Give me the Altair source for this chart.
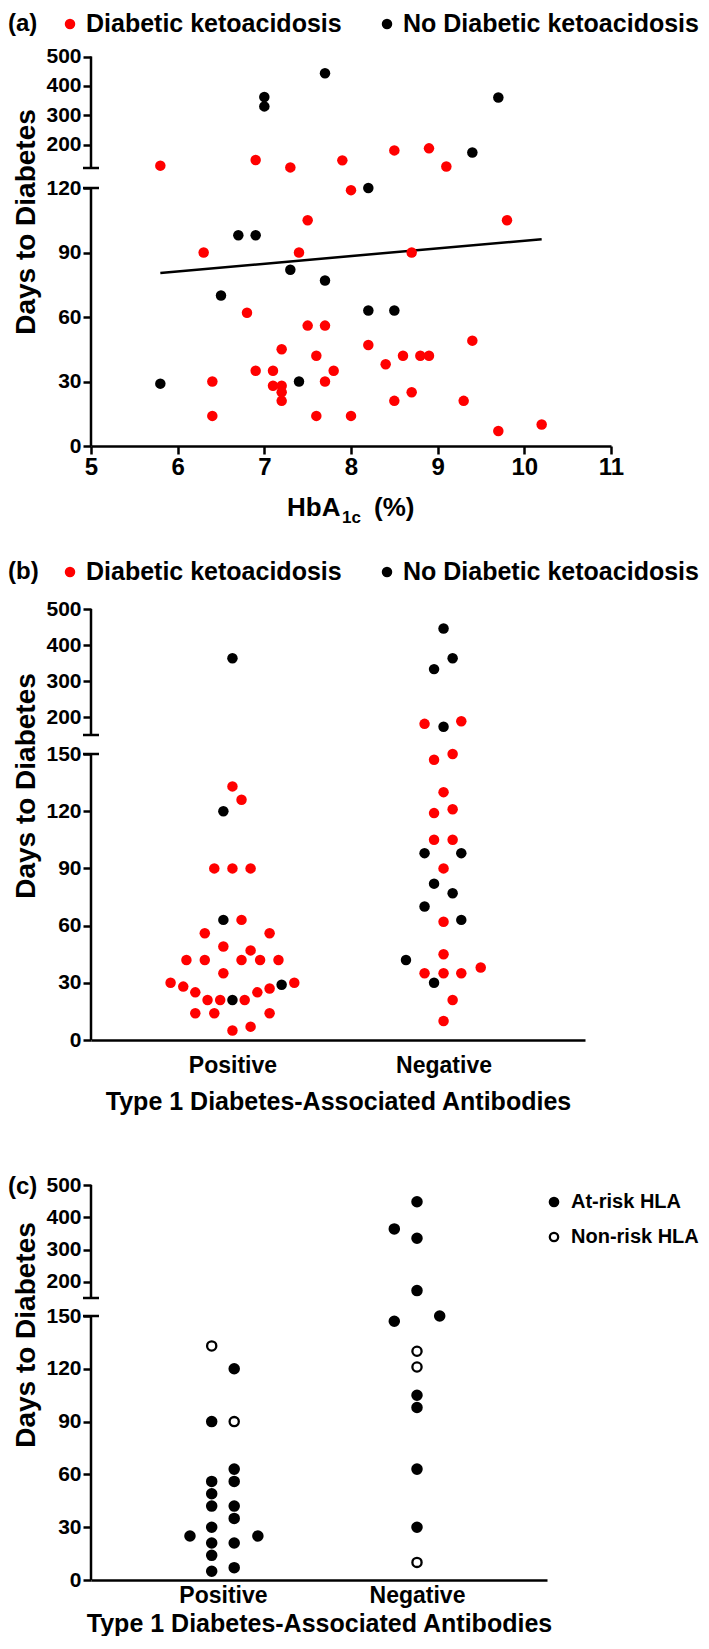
import altair as alt
import pandas as pd

FONT = "Liberation Sans"
RED = "#ff0000"
BLACK = "#000000"
DKA = "Diabetic ketoacidosis"
NODKA = "No Diabetic ketoacidosis"
ATRISK = "At-risk HLA"
NONRISK = "Non-risk HLA"
YTITLE = "Days to Diabetes"
XTITLE_BC = "Type 1 Diabetes-Associated Antibodies"

# ---------------- Panel (a): HbA1c vs days ----------------
a_red_hba1c = [6.3, 6.4, 6.4, 6.8, 6.9, 7.1, 7.1, 7.2, 7.2, 7.2, 7.2, 7.4, 7.5, 7.5, 7.6, 7.6,
               7.7, 7.7, 7.8, 8.0, 8.0, 8.2, 8.4, 8.5, 8.6, 8.7, 8.7, 8.8, 8.9, 9.3, 9.4, 9.7,
               9.8, 10.2, 5.8, 6.9, 7.3, 7.9, 8.5, 8.9, 9.1]
a_red_days = [90, 30, 14, 62, 35, 35, 28, 45, 28, 25, 21, 90, 105, 56, 42, 14,
              56, 30, 35, 119, 14, 47, 38, 21, 42, 90, 25, 42, 42, 21, 49, 7,
              105, 10, 128, 147, 122, 146, 180, 187, 125]
a_black_hba1c = [5.8, 6.5, 6.7, 6.9, 7.3, 7.4, 7.7, 8.2, 8.2, 8.5, 7.0, 7.0, 7.7, 9.7, 9.4]
a_black_days = [29, 70, 98, 98, 82, 30, 77, 120, 63, 63, 362, 330, 443, 360, 173]
fit_hba1c = [5.8, 10.2]
fit_days = [80.5, 96.2]
a_x_ticks = [5, 6, 7, 8, 9, 10, 11]
a_y_ticks = [0, 30, 60, 90, 120, 200, 300, 400, 500]
a_y_domain = [0, 120, 120.001, 500]
a_seg_lo = [0, 120.001]
a_seg_hi = [120, 500]
a_caps = [120, 120.001]

# ---------------- Panel (b): antibodies vs days (DKA) ----------------
b_group = (["Positive"] * 35) + (["Negative"] * 30)
b_dx = [0, 0.043, -0.086, 0, 0.086, 0.043, -0.131, 0.176, -0.043, 0.086, -0.218, -0.131,
        0.043, 0.131, 0.218, -0.043, -0.293, 0.293, -0.233, 0.176, -0.176, 0.118, -0.118,
        -0.058, 0.058, -0.176, -0.086, 0.176, 0.086, 0,
        0, -0.043, -0.043, 0.233, 0,
        -0.09, 0.084, -0.045, 0.043, 0, -0.045, 0.043, -0.045, 0.043, 0, 0, 0, 0.176, -0.09,
        0, 0.084, 0.043, 0,
        0, 0.043, -0.045, 0, -0.09, 0.084, -0.045, 0.043, -0.09, 0.084, -0.178, -0.045]
b_days = [133, 126, 90, 90, 90, 63, 56, 56, 49, 47, 42, 42, 42, 42, 42, 35, 30, 30, 28, 27,
          25, 25, 21, 21, 21, 14, 14, 14, 7, 5,
          363, 120, 63, 29, 21,
          181, 188, 147, 150, 130, 119, 121, 105, 105, 90, 62, 45, 38, 35, 35, 35, 21, 10,
          446, 363, 333, 173, 98, 98, 82, 77, 70, 63, 42, 30]
b_status = ([DKA] * 30) + ([NODKA] * 5) + ([DKA] * 18) + ([NODKA] * 12)

# ---------------- Panel (c): antibodies vs days (HLA) ----------------
c_group = (["Positive"] * 19) + (["Negative"] * 13)
c_dx = [-0.058, 0.058, -0.058, 0.058, 0.058, -0.058, 0.058, -0.058, -0.058, 0.058, 0.058,
        -0.058, -0.17, 0.18, -0.058, 0.058, -0.058, 0.058, -0.058,
        0, -0.117, 0, 0, -0.117, 0.117, 0, 0, 0, 0, 0, 0, 0]
c_days = [133, 120, 90, 90, 63, 56, 56, 49, 42, 42, 35, 30, 25, 25, 21, 21, 14, 7, 5,
          448, 364, 335, 173, 147, 150, 130, 121, 105, 98, 63, 30, 10]
c_hla = [NONRISK, ATRISK, ATRISK, NONRISK] + [ATRISK] * 15 + \
        [ATRISK] * 6 + [NONRISK, NONRISK] + [ATRISK] * 4 + [NONRISK]

bc_y_ticks = [0, 30, 60, 90, 120, 150, 200, 300, 400, 500]
bc_y_domain = [0, 150, 150.001, 500]
bc_seg_lo = [0, 150.001]
bc_seg_hi = [150, 500]
bc_caps = [150, 150.001]
categories = ["Positive", "Negative"]

# ---------------- helpers ----------------
dka_color = alt.Scale(domain=[DKA, NODKA], range=[RED, BLACK])
hla_fill = alt.Scale(domain=[ATRISK, NONRISK], range=[BLACK, "#ffffff"])


def y_axis(values):
    return alt.Axis(values=values, title=None, domain=False, grid=False, tickSize=8,
                    tickWidth=2.5, labelFontSize=21, labelPadding=2, labelOverlap=False,
                    labelFlush=False)


def text_layer(txt, x, y, size, align="left", angle=0, baseline="middle"):
    return alt.Chart(pd.DataFrame({"t": [txt]})).mark_text(
        align=align, baseline=baseline, fontSize=size, fontWeight="bold", font=FONT,
        color="black", angle=angle).encode(text="t:N", x=alt.value(x), y=alt.value(y))


def spine_layers(ysc, yax, lo, hi, caps):
    seg = alt.Chart(pd.DataFrame({"lo": lo, "hi": hi})).mark_rule(
        strokeWidth=2.5, color="black").encode(
        x=alt.value(0), y=alt.Y("lo:Q", scale=ysc, axis=yax), y2="hi:Q")
    cap = alt.Chart(pd.DataFrame({"cap": caps})).mark_rule(
        strokeWidth=2.5, color="black").encode(
        x=alt.value(-8), x2=alt.value(8), y=alt.Y("cap:Q", scale=ysc, axis=yax))
    return [seg, cap]


def dka_legend(tag, y):
    layers = [text_layer(tag, -83, y, 24)]
    for lab, xd, xt in [(DKA, -21, -5), (NODKA, 296, 312)]:
        layers.append(alt.Chart(pd.DataFrame({"s": [lab]})).mark_circle(size=110, opacity=1).encode(
            x=alt.value(xd), y=alt.value(y),
            color=alt.Color("s:N", scale=dka_color, legend=None)))
        layers.append(text_layer(lab, xt, y, 25))
    return layers


YT_X = -64

# ---------------- Panel (a) ----------------
A_W, A_H = 520, 438
ya = alt.Scale(domain=a_y_domain, range=[438, 180, 160, 48.5], nice=False, zero=False)
yax_a = y_axis(a_y_ticks)
xa = alt.Scale(domain=[5, 11], nice=False, zero=False)
xax_a = alt.Axis(values=a_x_ticks, title=None, grid=False, tickSize=8, tickWidth=2.5,
                 domainWidth=2.5, labelFontSize=24, labelPadding=1, labelFlush=False,
                 labelOverlap=False)

df_a = pd.DataFrame({
    "hba1c": a_red_hba1c + a_black_hba1c,
    "days": a_red_days + a_black_days,
    "status": [DKA] * len(a_red_days) + [NODKA] * len(a_black_days),
})
pts_a = alt.Chart(df_a).mark_circle(size=110, opacity=1).encode(
    x=alt.X("hba1c:Q", scale=xa, axis=xax_a),
    y=alt.Y("days:Q", scale=ya, axis=yax_a),
    color=alt.Color("status:N", scale=dka_color, legend=None))
fit_a = alt.Chart(pd.DataFrame({"hba1c": fit_hba1c, "days": fit_days})).mark_line(
    color="black", strokeWidth=2.5).encode(
    x=alt.X("hba1c:Q", scale=xa, axis=xax_a), y=alt.Y("days:Q", scale=ya, axis=yax_a))

panel_a = alt.layer(
    *spine_layers(ya, yax_a, a_seg_lo, a_seg_hi, a_caps), fit_a, pts_a,
    *dka_legend("(a)", 16),
    text_layer(YTITLE, YT_X, 214, 28, align="center", angle=270),
    text_layer("HbA", 196, 508, 26, baseline="alphabetic"),
    text_layer("1c", 251, 515, 17, baseline="alphabetic"),
    text_layer("(%)", 283, 508, 26, baseline="alphabetic"),
).properties(width=A_W, height=A_H)


# ---------------- Panels (b), (c) ----------------
def cat_x(domain, label_pad, title_pad):
    return alt.X("xpos:Q", scale=alt.Scale(domain=domain, nice=False, zero=False),
                 axis=alt.Axis(values=[1, 2], labelExpr="datum.value == 1 ? 'Positive' : 'Negative'",
                               ticks=False, grid=False, domainWidth=2.5, labelFontSize=23,
                               labelPadding=label_pad, labelOverlap=False, labelFlush=False,
                               title=XTITLE_BC, titleFontSize=25, titlePadding=title_pad))


xpos_expr = "indexof(%s, datum.group) + 1 + datum.dx" % str(categories).replace("'", '"')

B_W, B_H = 494, 484
yb = alt.Scale(domain=bc_y_domain, range=[484, 198, 179, 53], nice=False, zero=False)
yax_b = y_axis(bc_y_ticks)
df_b = pd.DataFrame({"group": b_group, "dx": b_dx, "days": b_days, "status": b_status})
pts_b = alt.Chart(df_b).transform_calculate(xpos=xpos_expr).mark_circle(size=110, opacity=1).encode(
    x=cat_x([0.33, 2.67], 14, 12),
    y=alt.Y("days:Q", scale=yb, axis=yax_b),
    color=alt.Color("status:N", scale=dka_color, legend=None))
panel_b = alt.layer(
    *spine_layers(yb, yax_b, bc_seg_lo, bc_seg_hi, bc_caps), pts_b,
    *dka_legend("(b)", 16),
    text_layer(YTITLE, YT_X, 230, 28, align="center", angle=270),
).properties(width=B_W, height=B_H)

C_W, C_H = 456, 430
yc = alt.Scale(domain=bc_y_domain, range=[430, 166, 148, 35], nice=False, zero=False)
yax_c = y_axis(bc_y_ticks)
df_c = pd.DataFrame({"group": c_group, "dx": c_dx, "days": c_days, "hla": c_hla})
pts_c = alt.Chart(df_c).transform_calculate(xpos=xpos_expr).mark_point(
    shape="circle", filled=True, size=85, stroke="black", strokeWidth=2.3, opacity=1).encode(
    x=cat_x([0.32, 2.67], 4, 4),
    y=alt.Y("days:Q", scale=yc, axis=yax_c),
    fill=alt.Fill("hla:N", scale=hla_fill, legend=None))

c_leg = []
for lab, yy in [(ATRISK, 52), (NONRISK, 87)]:
    c_leg.append(alt.Chart(pd.DataFrame({"h": [lab]})).mark_point(
        shape="circle", filled=True, size=70, stroke="black", strokeWidth=2.3, opacity=1).encode(
        x=alt.value(463), y=alt.value(yy), fill=alt.Fill("h:N", scale=hla_fill, legend=None)))
    c_leg.append(text_layer(lab, 480, yy, 20))

panel_c = alt.layer(
    *spine_layers(yc, yax_c, bc_seg_lo, bc_seg_hi, bc_caps), pts_c, *c_leg,
    text_layer("(c)", -83, 37, 24),
    text_layer(YTITLE, YT_X, 185, 28, align="center", angle=270),
).properties(width=C_W, height=C_H)

chart = alt.vconcat(panel_a, panel_b, panel_c, spacing=110, bounds="flush").properties(
    padding=0
).configure_view(stroke=None).configure_axis(
    domainColor="black", tickColor="black", labelColor="black", titleColor="black",
    labelFont=FONT, titleFont=FONT, labelFontWeight="bold", titleFontWeight="bold"
).configure_text(font=FONT)

chart.save("out.html", embed_options={"renderer": "svg", "actions": False})
